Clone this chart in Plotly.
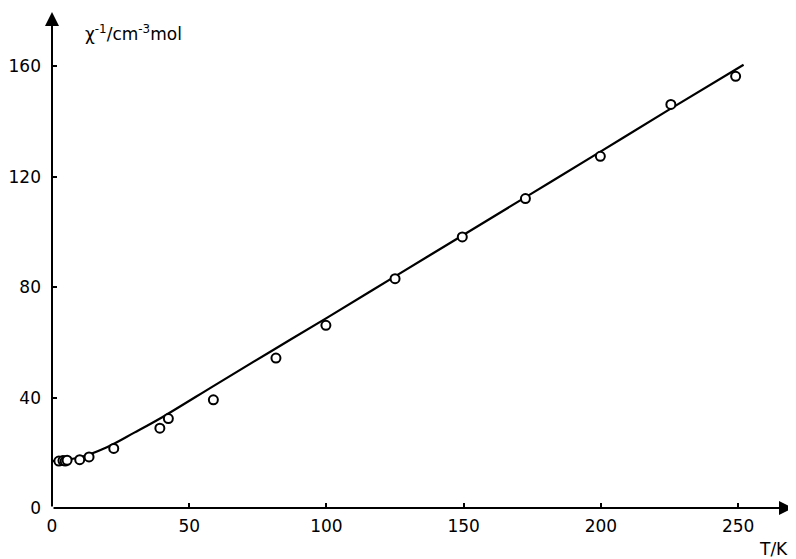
import plotly.graph_objects as go

# Observed data points (T in K, inverse susceptibility in cm^-3 mol)
T_obs = [2.5, 4.0, 4.8, 5.5, 10.1, 13.5, 22.5, 39.3, 42.4, 58.8, 81.6, 99.8,
         125.0, 149.5, 172.5, 199.8, 225.5, 249.1]
V_obs = [17.0, 17.2, 17.0, 17.3, 17.5, 18.5, 21.6, 28.9, 32.4, 39.2, 54.3, 66.2,
         83.1, 98.2, 112.1, 127.4, 146.2, 156.4]

# Fitted curve
T_fit = [0, 10, 20, 30, 40, 60, 80, 100, 125, 150, 175, 200, 225, 252]
V_fit = [17.0, 18.3, 22.0, 27.3, 32.8, 44.9, 56.9, 68.8, 83.9, 99.0, 114.1, 129.2,
         144.4, 160.6]

x_ticks = [0, 50, 100, 150, 200, 250]
y_ticks = [0, 40, 80, 120, 160]

X_MAX = 270
Y_MAX = 179.7

FONT = "DejaVu Sans, sans-serif"

fig = go.Figure()
fig.add_trace(go.Scatter(
    x=T_fit, y=V_fit, mode="lines", line=dict(color="black", width=2.2, shape="spline"),
    cliponaxis=False, showlegend=False, hoverinfo="skip"))
fig.add_trace(go.Scatter(
    x=T_obs, y=V_obs, mode="markers",
    marker=dict(symbol="circle", size=9, color="white", line=dict(color="black", width=2)),
    cliponaxis=False, showlegend=False))

# axes with arrows
fig.add_annotation(x=X_MAX, y=0, ax=0, ay=0, xref="x", yref="y", axref="x", ayref="y",
                   text="", showarrow=True, arrowhead=2, arrowsize=1.4, arrowwidth=2,
                   arrowcolor="black")
fig.add_annotation(x=0, y=Y_MAX, ax=0, ay=0, xref="x", yref="y", axref="x", ayref="y",
                   text="", showarrow=True, arrowhead=2, arrowsize=1.4, arrowwidth=2,
                   arrowcolor="black")

fig.add_annotation(x=1.0, y=0, xref="paper", yref="paper", xanchor="right", yanchor="middle",
                   yshift=-41, xshift=-3, text="T/K", showarrow=False,
                   font=dict(family=FONT, size=17, color="black"))
fig.add_annotation(x=0, y=1.0, xref="paper", yref="paper", xanchor="left", yanchor="middle",
                   xshift=31, yshift=-21, text="χ<sup>-1</sup>/cm<sup>-3</sup>mol",
                   showarrow=False, font=dict(family=FONT, size=17, color="black"))

fig.update_xaxes(range=[0, X_MAX], tickvals=x_ticks, ticktext=[str(v) for v in x_ticks],
                 ticks="inside", ticklen=5, tickwidth=1.5, tickcolor="black",
                 showgrid=False, zeroline=False, showline=False, ticklabelstandoff=6,
                 automargin=False,
                 tickfont=dict(family=FONT, size=17, color="black"))
fig.update_yaxes(range=[0, Y_MAX], tickvals=y_ticks, ticktext=[str(v) for v in y_ticks],
                 ticks="inside", ticklen=5, tickwidth=1.5, tickcolor="black",
                 showgrid=False, zeroline=False, showline=False, ticklabelstandoff=10,
                 automargin=False,
                 tickfont=dict(family=FONT, size=17, color="black"))

# the page body has an 8px margin, so the figure is sized 788x551
fig.update_layout(width=788, height=551, margin=dict(l=44, r=3, t=4, b=51),
                  plot_bgcolor="white", paper_bgcolor="white")

fig.write_html("out.html")
